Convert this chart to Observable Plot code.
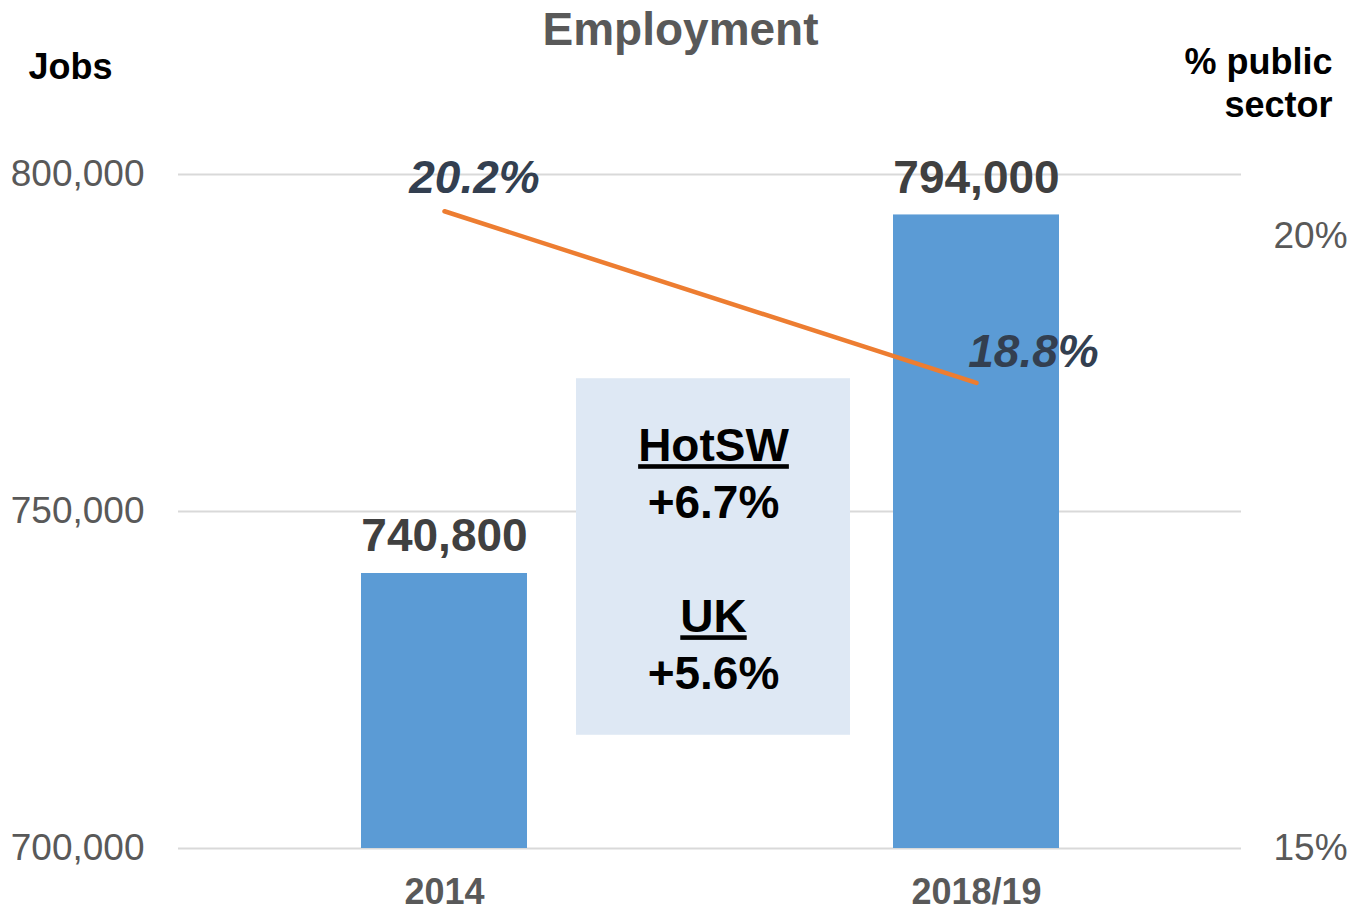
<!DOCTYPE html>
<html><head><meta charset="utf-8">
<script src="https://cdn.jsdelivr.net/npm/d3@7"></script>
<script src="https://cdn.jsdelivr.net/npm/@observablehq/plot@0.6"></script>
<style>
body{margin:0;background:#fff;}
#chart svg{display:block;font-family:"Liberation Sans",Arial,sans-serif;}
.ul tspan:nth-child(odd){text-decoration:underline;}
</style></head><body><div id="chart"></div>
<script>
const periods = ["2014", "2018/19"];
const jobs = [740800, 794000];
const publicShare = [20.2, 18.8];
const jobTicks = [700000, 750000, 800000];
const pctTicks = [15, 20];
const jobDomain = [700000, 800000];
const pctDomain = [15, 20.5];
const boxText = "HotSW\n+6.7%\n\nUK\n+5.6%";
const boxRange = [716800, 769700];

const pctToJobs = p => jobDomain[0] + (p - pctDomain[0]) / (pctDomain[1] - pctDomain[0]) * (jobDomain[1] - jobDomain[0]);
const jobsToPct = v => pctDomain[0] + (v - jobDomain[0]) / (jobDomain[1] - jobDomain[0]) * (pctDomain[1] - pctDomain[0]);
const data = periods.map((p, i) => ({period: p, jobs: jobs[i], pct: publicShare[i], pctY: pctToJobs(publicShare[i])}));
const font = '"Liberation Sans", Arial, sans-serif';

const chart = Plot.plot({
  width: 1348, height: 910,
  marginLeft: 178, marginRight: 107, marginTop: 174, marginBottom: 62,
  style: {fontFamily: font, background: "white", overflow: "visible"},
  x: {domain: periods, paddingInner: 0.688, paddingOuter: 0.343, label: null, axis: null},
  y: {domain: jobDomain, label: null, axis: null},
  marks: [
    Plot.ruleY(jobTicks, {stroke: "#d9d9d9", strokeWidth: 2}),
    Plot.barY(data, {x: "period", y1: () => jobDomain[0], y2: "jobs", fill: "#5b9bd5"}),
    Plot.rect([boxRange], {y1: d => d[0], y2: d => d[1], fill: "#dee8f4", insetLeft: 398, insetRight: 391}),
    Plot.text([(boxRange[0] + boxRange[1]) / 2], {y: d => d, text: () => boxText, frameAnchor: "middle", dx: 3.5,
      fontSize: 46, fontWeight: "bold", fill: "black", lineHeight: 1.24, className: "ul"}),
    Plot.line(data, {x: "period", y: "pctY", stroke: "#ed7d31", strokeWidth: 4.5, strokeLinecap: "round"}),
    Plot.text(data, {x: "period", y: "jobs", text: d => d3.format(",")(d.jobs), dy: -37,
      fontSize: 46, fontWeight: "bold", fill: "#404040"}),
    Plot.text(data.slice(0, 1), {x: "period", y: "pctY", text: d => d.pct.toFixed(1) + "%", dx: 30, dy: -33,
      fontSize: 46, fontWeight: "bold", fontStyle: "italic", fill: "#333f50"}),
    Plot.text(data.slice(1), {x: "period", y: "pctY", text: d => d.pct.toFixed(1) + "%", dx: 57, dy: -31,
      fontSize: 46, fontWeight: "bold", fontStyle: "italic", fill: "#333f50"}),
    Plot.axisY({ticks: jobTicks, tickFormat: d3.format(","), tickSize: 0, tickPadding: 34,
      fontSize: 37, fill: "#595959", label: null}),
    Plot.axisY({anchor: "right", ticks: pctTicks.map(pctToJobs), tickFormat: v => Math.round(jobsToPct(v)) + "%",
      tickSize: 0, tickPadding: 32, fontSize: 37, fill: "#595959", label: null}),
    Plot.axisX({tickSize: 0, tickPadding: 30, fontSize: 36, fontWeight: "bold", fill: "#595959", label: null}),
    Plot.text(["Employment"], {frameAnchor: "top", lineAnchor: "middle", dx: -29.5, dy: -144, fontSize: 46, fontWeight: "bold", fill: "#595959"}),
    Plot.text(["Jobs"], {frameAnchor: "top-left", lineAnchor: "middle", textAnchor: "start", dx: -150, dy: -107, fontSize: 36, fontWeight: "bold", fill: "black"}),
    Plot.text(["% public\nsector"], {frameAnchor: "top-right", lineAnchor: "middle", textAnchor: "end", dx: 91, dy: -92.5, lineHeight: 1.2,
      fontSize: 36, fontWeight: "bold", fill: "black"})
  ]
});
document.getElementById("chart").appendChild(chart);
</script></body></html>
